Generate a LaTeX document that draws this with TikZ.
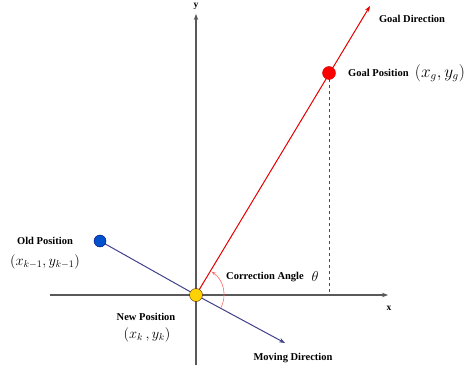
\documentclass[tikz,border=0pt]{standalone}
\usepackage{fontspec}
\setmainfont{Liberation Serif}
\usepackage{tikz}
\usetikzlibrary{positioning,arrows.meta}

\tikzset{
  axis/.style={draw=black!65,line width=1.2pt},
  lbl/.style={font=\fontsize{10.5}{12}\selectfont\bfseries,inner sep=1pt},
  coordlbl/.style={font=\fontsize{14}{16}\selectfont,inner sep=1pt},
  dot/.style={circle,inner sep=0pt,minimum size=#1},
}

\begin{document}
\begin{tikzpicture}[x=1pt,y=1pt,>=Stealth]
    \useasboundingbox (0,0) rectangle (468,370);
    \coordinate (O) at (196,75);
    \coordinate (ybot) at (196,5);
    \coordinate (ytop) at (196,356);
    \coordinate (xleft) at (50,75);
    \coordinate (xright) at (388,75);
    \coordinate (gtip) at (370,364);
    \coordinate (g) at (329,297);
    \coordinate (foot) at (329,75);
    \coordinate (o) at (100,129);
    \coordinate (mtip) at (285,27);
    % axes
    \draw[axis,-{Stealth[length=6pt,width=4.5pt]}] (ybot) -- (ytop);
    \draw[axis,-{Stealth[length=6pt,width=4.5pt]}] (xleft) -- (xright);
    \node[font=\fontsize{9.5}{10}\selectfont\bfseries] (ylbl) at (196,364) {y};
    \node[font=\fontsize{9.5}{10}\selectfont\bfseries] (xlbl) at (389,62) {x};
    % directions
    \draw[dashed,black!70,line width=0.8pt] (g) -- (foot);
    \draw[red!90!black,line width=1pt,-{Stealth[length=6pt,width=4.5pt]}] (O) -- (gtip);
    \draw[blue!40!black!75,line width=1pt] (o) -- (O);
    \draw[blue!40!black!75,line width=1pt,-{Stealth[length=6pt,width=4.5pt]}] (O) -- (mtip);
    \draw[red!60,line width=0.6pt,-{Stealth[length=4pt,width=3pt]}]
      (O) ++(-28:28) arc[start angle=-28,end angle=56,radius=28];
    % positions
    \node[dot=13pt,fill=red,draw=red!80!black] (goal) at (g) {};
    \node[dot=12pt,fill=blue!60!cyan!80!black,draw=blue!50!black] (old) at (o) {};
    \node[dot=13pt,fill=yellow!70!orange,draw=black!70!orange] (new) at (O) {};
    % labels
    \node[lbl] (gdir) at (412,351) {Goal Direction};
    \node[lbl,anchor=west] (gpos) at (347,297) {Goal Position};
    \node[coordlbl,font=\fontsize{16}{18}\selectfont,right=4pt of gpos] (gxy) {$(x_g,y_g)$};
    \node[lbl] (opos) at (45,129) {Old Position};
    \node[coordlbl] (oxy) at (45,108) {$(x_{k-1},y_{k-1})$};
    \node[lbl] (npos) at (146,53) {New Position};
    \node[coordlbl] (nxy) at (147,35) {$(x_k\,,y_k)$};
    \node[lbl] (cang) at (265,93) {Correction Angle};
    \node[coordlbl] (theta) at (315,94) {$\theta$};
    \node[lbl] (mdir) at (293,12) {Moving Direction};
  \end{tikzpicture}
\end{document}
